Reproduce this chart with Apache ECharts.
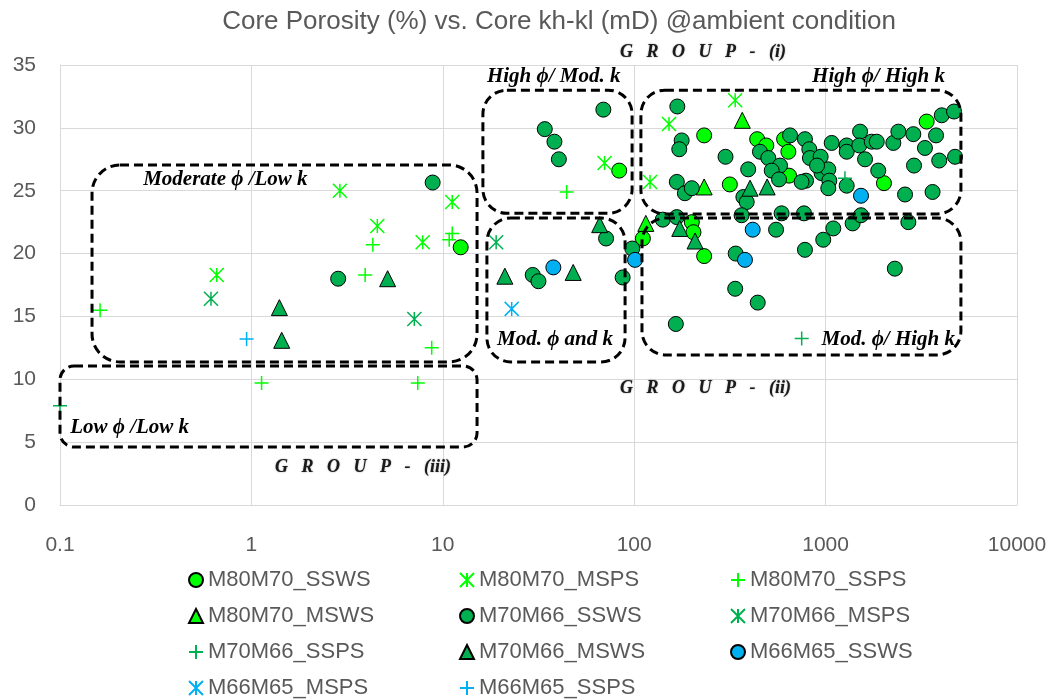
<!DOCTYPE html>
<html>
<head>
<meta charset="utf-8">
<script src="https://cdn.jsdelivr.net/npm/echarts@6/dist/echarts.min.js"></script>
<style>
html,body{margin:0;padding:0;background:#fff;}
#chart{width:1061px;height:699px;}
</style>
</head>
<body>
<div id="chart"></div>
<script>
// ---------- DATA (k in mD, porosity in %) ----------
const seriesNames = ['M80M70_SSWS','M80M70_MSPS','M80M70_SSPS','M80M70_MSWS','M70M66_SSWS','M70M66_MSPS','M70M66_SSPS','M70M66_MSWS','M66M65_SSWS','M66M65_MSPS','M66M65_SSPS'];

const m80m70_ssws = [[12.4,20.5],[83.5,26.6],[111,21.2],[200,22.5],[204,21.7],[232,19.8],[232,29.4],[316,25.5],[439,29.1],[490,28.6],[607,29.1],[639,28.1],[644,26.2],[2018,25.6],[3373,30.5]];
const m80m70_msps = [[0.659,18.3],[2.9,25.0],[4.55,22.2],[7.85,20.9],[11.2,24.1],[70,27.2],[121,25.7],[152,30.3],[337,32.2]];
const m80m70_ssps = [[0.162,15.5],[1.13,9.7],[3.93,18.3],[4.31,20.7],[7.4,9.7],[8.75,12.5],[10.8,21.1],[11.2,21.6],[44.4,24.9]];
const m80m70_msws = [[115,22.4],[232,25.3],[367,30.6]];
const m70m66_ssws = [[168,31.7],[177,29.0],[172,28.3],[300,27.7],[167,25.7],[184,24.8],[200,25.2],[394,26.7],[454,28.1],[502,27.6],[578,27.0],[523,26.6],[571,25.9],[652,29.4],[780,29.1],[822,28.3],[828,27.6],[942,27.7],[790,25.8],[372,24.5],[387,24.1],[953,26.4],[1033,26.7],[1046,25.8],[1033,25.2],[1076,28.8],[1289,28.6],[1289,28.1],[1514,29.7],[1500,28.6],[1742,28.9],[1850,28.9],[1607,27.5],[1884,26.6],[1289,25.4],[2600,24.7],[3621,24.9],[2259,28.8],[2400,29.7],[2873,29.5],[3776,29.4],[3304,28.4],[2897,27.0],[3924,27.4],[4745,27.7],[4045,31.0],[4688,31.3],[71.3,21.2],[97.7,20.4],[87,18.1],[141,22.7],[167,22.9],[339,20.0],[337,17.2],[442,16.1],[165,14.4],[364,23.05],[551,21.9],[589,23.2],[771,23.2],[780,20.3],[972,21.1],[1097,22.0],[1384,22.4],[1531,23.05],[2300,18.8],[2706,22.5],[2.84,18.0],[8.85,25.65],[29.5,18.3],[31.6,17.8],[34.1,29.9],[38.3,28.9],[40.4,27.5],[69,31.45],[902,27.0],[749,25.7]];
const m70m66_msps = [[0.615,16.4],[7.1,14.8],[19,20.9]];
const m70m66_ssps = [[0.1,7.9],[750,13.25],[1262,26.0]];
const m70m66_msws = [[1.40,15.7],[1.44,13.1],[5.15,18.0],[21.1,18.2],[48,18.5],[66,22.3],[173,22.0],[208,21.0],[403,25.2],[495,25.3]];
const m66m65_ssws = [[37.8,18.9],[101,19.5],[379,19.5],[416,21.9],[1531,24.6]];
const m66m65_msps = [[22.9,15.6]];
const m66m65_ssps = [[0.944,13.2]];

const yTicks = [0,5,10,15,20,25,30,35];
const xTicks = [0.1,1,10,100,1000,10000];

// ---------- STYLE ----------
const LIME = '#00FF00', GREEN = '#00B050', BLUE = '#00B0F0';
const STAR = 'path://M0,0L10,10M10,0L0,10M5,0L5,10';
const PLUS = 'path://M0,5L10,5M5,0L5,10';
const FONT = '"Liberation Sans", Arial, sans-serif';
const SERIF = '"Liberation Serif", "Times New Roman", serif';
const GRAY = '#595959';

function filled(name, data, symbol, color, size) {
  return { name, type:'scatter', data, symbol, symbolSize:size,
    itemStyle:{ color, borderColor:'#000', borderWidth:1, opacity:1 },
    emphasis:{disabled:true} };
}
function stroked(name, data, symbol, color, size) {
  return { name, type:'scatter', data, symbol, symbolSize:size,
    itemStyle:{ color:'rgba(0,0,0,0)', borderColor:color, borderWidth:1.5, opacity:1 },
    emphasis:{disabled:true} };
}

const series = [
  filled('M80M70_SSWS', m80m70_ssws, 'circle', LIME, 15),
  stroked('M80M70_MSPS', m80m70_msps, STAR, LIME, 14),
  stroked('M80M70_SSPS', m80m70_ssps, PLUS, LIME, 14),
  filled('M80M70_MSWS', m80m70_msws, 'triangle', LIME, 16),
  filled('M70M66_SSWS', m70m66_ssws, 'circle', GREEN, 15),
  stroked('M70M66_MSPS', m70m66_msps, STAR, GREEN, 14),
  stroked('M70M66_SSPS', m70m66_ssps, PLUS, GREEN, 14),
  filled('M70M66_MSWS', m70m66_msws, 'triangle', GREEN, 16),
  filled('M66M65_SSWS', m66m65_ssws, 'circle', BLUE, 15),
  stroked('M66M65_MSPS', m66m65_msps, STAR, BLUE, 14),
  stroked('M66M65_SSPS', m66m65_ssps, PLUS, BLUE, 14)
];

function legendCol(left, names) {
  return { orient:'vertical', left, top:569, padding:0, itemGap:14, itemWidth:14, itemHeight:14,
    selectedMode:false, data:names,
    textStyle:{ fontSize:22, lineHeight:21, color:GRAY, fontFamily:FONT } };
}

const chart = echarts.init(document.getElementById('chart'), null, {renderer:'canvas'});
const option = {
  animation:false,
  backgroundColor:'#fff',
  title:{ text:'Core Porosity (%) vs. Core kh-kl (mD) @ambient condition', left:554, top:4, textAlign:'center',
    textStyle:{ fontSize:26, fontWeight:'normal', color:GRAY, fontFamily:FONT } },
  grid:{ left:60, top:65, right:44, bottom:194, containLabel:false },
  xAxis:{ type:'log', logBase:10, min:xTicks[0], max:xTicks[xTicks.length-1],
    axisLine:{ show:true, lineStyle:{ color:'#d9d9d9', width:1 } },
    axisTick:{ show:false },
    splitLine:{ show:true, lineStyle:{ color:'#d9d9d9', width:1 } },
    axisLabel:{ color:GRAY, fontSize:21, fontFamily:FONT, margin:30,
      formatter: v => String(+(+v).toPrecision(4)) } },
  yAxis:{ type:'value', min:yTicks[0], max:yTicks[yTicks.length-1], interval:5,
    axisLine:{ show:true, lineStyle:{ color:'#d9d9d9', width:1 } },
    axisTick:{ show:false },
    splitLine:{ show:true, lineStyle:{ color:'#d9d9d9', width:1 } },
    axisLabel:{ color:GRAY, fontSize:21, fontFamily:FONT, margin:24 } },
  legend:[
    legendCol(188, ['M80M70_SSWS','M80M70_MSWS','M70M66_SSPS','M66M65_MSPS']),
    legendCol(459, ['M80M70_MSPS','M70M66_SSWS','M70M66_MSWS','M66M65_SSPS']),
    legendCol(730, ['M80M70_SSPS','M70M66_MSPS','M66M65_SSWS'])
  ],
  series
};
chart.setOption(option);

// ---------- ANNOTATIONS (region boxes and labels, placed in data coordinates) ----------
const regionBoxes = [
  { k0:0.147, k1:15.1, p0:27.05, p1:11.38, r:28 },
  { k0:0.1,   k1:15.1, p0:11.06, p1:4.61,  r:14 },
  { k0:16.2,  k1:97.5, p0:33.0,  p1:23.2,  r:24 },
  { k0:17.0,  k1:89.6, p0:22.83, p1:11.38, r:24 },
  { k0:108.4, k1:5093, p0:33.0,  p1:23.15, r:24 },
  { k0:109.8, k1:5093, p0:22.83, p1:11.93, r:24 }
];
const regionLabels = [
  { t:'Moderate ϕ /Low k', k:0.272, p:25.85, a:'left' },
  { t:'Low ϕ /Low k', k:0.113, p:6.13, a:'left' },
  { t:'High ϕ/ Mod. k', k:17.0, p:34.05, a:'left' },
  { t:'Mod. ϕ and k', k:19.2, p:13.13, a:'left' },
  { t:'High ϕ/ High k', k:4206, p:34.05, a:'right' },
  { t:'Mod. ϕ/ High k', k:4742, p:13.13, a:'right' }
];
const groupLabels = [
  { t:'G   R   O   U   P   -   (i)', k:84.3, p:36.0 },
  { t:'G   R   O   U   P   -   (ii)', k:84.3, p:9.31 },
  { t:'G   R   O   U   P   -   (iii)', k:1.33, p:3.02 }
];

const toPx = (k, p) => chart.convertToPixel({gridIndex:0}, [k, p]);
const graphics = [];
regionBoxes.forEach(b => {
  const a = toPx(b.k0, b.p0), c = toPx(b.k1, b.p1);
  graphics.push({ type:'rect', silent:true, z:100,
    shape:{ x:a[0], y:a[1], width:c[0]-a[0], height:c[1]-a[1], r:b.r },
    style:{ fill:'none', stroke:'#000', lineWidth:3, lineDash:[9,5] } });
});
regionLabels.forEach(l => {
  const q = toPx(l.k, l.p);
  graphics.push({ type:'text', silent:true, z:101, x:q[0], y:q[1],
    style:{ text:l.t, fill:'#000', fontSize:21, fontWeight:'bold', fontStyle:'italic',
      fontFamily:SERIF, align:l.a, verticalAlign:'middle' } });
});
groupLabels.forEach(l => {
  const q = toPx(l.k, l.p);
  graphics.push({ type:'text', silent:true, z:101, x:q[0], y:q[1],
    style:{ text:l.t, fill:'#1a1a1a', fontSize:18, fontWeight:'bold', fontStyle:'italic',
      fontFamily:SERIF, align:'left', verticalAlign:'middle',
      textShadowColor:'rgba(0,0,0,0.5)', textShadowBlur:1.5 } });
});
chart.setOption({ graphic: graphics });
</script>
</body>
</html>
